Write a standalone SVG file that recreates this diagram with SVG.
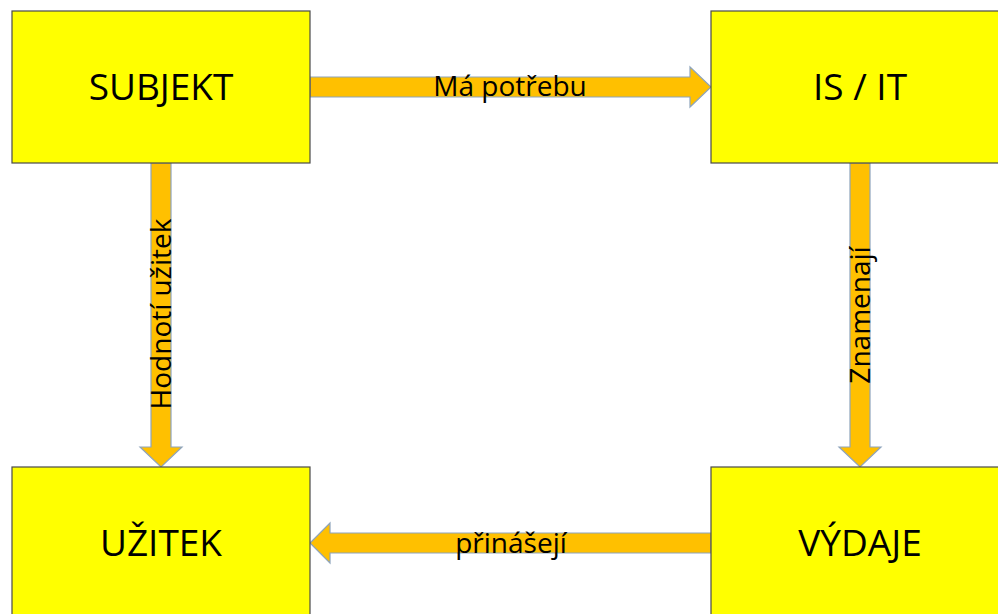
<svg xmlns="http://www.w3.org/2000/svg" width="998" height="614" viewBox="0 0 998 614">
<style>
.box{fill:#FFFF00;stroke:#4a4a4a;stroke-width:1.2}
.arr{fill:#FFC000;stroke:#8EA4BC;stroke-width:1.2;stroke-linejoin:miter}
.bt{font-family:"Open Sans","Noto Sans",sans-serif;font-size:37px;fill:#000;text-anchor:middle}
.lt{font-family:"Open Sans","Noto Sans",sans-serif;font-size:28px;fill:#000;text-anchor:middle}
</style>
<rect width="998" height="614" fill="#fff"/>
<g id="connectors">
<g id="c-top"><polygon class="arr" points="310,77 690,77 690,67 711,87 690,107 690,97 310,97"/><text class="lt" x="510" y="96">Má potřebu</text></g>
<g id="c-left"><polygon class="arr" points="151,163 171,163 171,447 182,447 161,467 140,447 151,447"/><text class="lt" transform="translate(171,314) rotate(-90)">Hodnotí užitek</text></g>
<g id="c-right"><polygon class="arr" points="850,163 870,163 870,447 881,447 860,467 839,447 850,447"/><text class="lt" transform="translate(870,315) rotate(-90)">Znamenají</text></g>
<g id="c-bottom"><polygon class="arr" points="711,533 330,533 330,523 310,543 330,563 330,553 711,553"/><text class="lt" x="511" y="553">přinášejí</text></g>
</g>
<g id="subjekt"><rect class="box" x="12" y="11" width="298" height="152"/><text class="bt" x="161" y="100">SUBJEKT</text></g>
<g id="isit"><rect class="box" x="711" y="11" width="298" height="152"/><text class="bt" x="860" y="100">IS / IT</text></g>
<g id="uzitek"><rect class="box" x="12" y="467" width="298" height="160"/><text class="bt" x="161" y="556">UŽITEK</text></g>
<g id="vydaje"><rect class="box" x="711" y="467" width="298" height="160"/><text class="bt" x="860" y="556">VÝDAJE</text></g>
</svg>
